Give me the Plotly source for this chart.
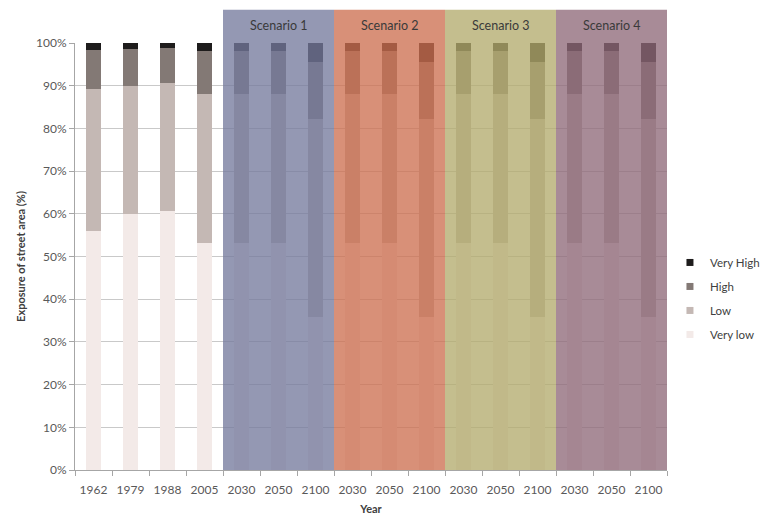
import plotly.graph_objects as go

# Time steps: four historical years, then three projection years per scenario
years = ["1962", "1979", "1988", "2005",
         "2030", "2050", "2100",
         "2030", "2050", "2100",
         "2030", "2050", "2100",
         "2030", "2050", "2100"]

scenarios = ["Scenario 1", "Scenario 2", "Scenario 3", "Scenario 4"]
scenario_start = [4, 7, 10, 13]   # index of the first year in each scenario group
scenario_colors = ["rgb(116,121,156)", "rgb(204,110,80)",
                   "rgb(178,170,108)", "rgb(142,104,120)"]

# Share of street area (%) in each exposure class
very_low = [56.0, 60.0, 60.7, 53.1] + [53.2, 53.2, 35.8] * 4
low = [33.2, 30.0, 29.9, 35.0] + [34.8, 34.8, 46.4] * 4
high = [9.2, 8.5, 8.2, 10.0] + [10.2, 10.2, 13.3] * 4
very_high = [1.6, 1.5, 1.2, 1.9] + [1.8, 1.8, 4.5] * 4

series = [
    ("Very low", very_low, "rgb(243,234,232)"),
    ("Low", low, "rgb(196,184,180)"),
    ("High", high, "rgb(131,121,117)"),
    ("Very High", very_high, "rgb(30,28,28)"),
]

xpos = list(range(len(years)))
x_lo, x_hi = -0.5, len(years) - 0.5

fig = go.Figure()
for name, vals, color in series:
    fig.add_trace(go.Bar(
        x=xpos, y=vals, name=name, width=0.4, showlegend=False,
        marker=dict(color=color, line=dict(width=0)),
    ))

# Small square legend keys, one per exposure class
for i, (name, vals, color) in enumerate(series):
    fig.add_trace(go.Scatter(
        x=[None], y=[None], mode="markers", name=name,
        legendgroup=name, legendrank=len(series) - i,
        marker=dict(symbol="square", size=7, color=color,
                    line=dict(width=0)),
    ))

font = "Lato, 'Open Sans', Arial, sans-serif"

# Semi-transparent scenario bands laid over the projected bars
band_top = 1.078
for name, start, color in zip(scenarios, scenario_start, scenario_colors):
    left = (start - 0.5 - x_lo) / (x_hi - x_lo)
    right = (start + 2.5 - x_lo) / (x_hi - x_lo)
    fig.add_shape(type="rect", xref="paper", yref="paper",
                  x0=left, x1=right, y0=0, y1=band_top,
                  fillcolor=color, opacity=0.77, line=dict(width=0),
                  layer="above")
    fig.add_annotation(x=start + 1, y=1.042, xref="x", yref="paper",
                       yanchor="middle", text=name, showarrow=False,
                       font=dict(family=font, size=12.5, color="#3a3a3a"))

fig.update_layout(
    width=762, height=518,
    margin=dict(l=75, r=95, t=43, b=48, autoexpand=False),
    barmode="stack",
    plot_bgcolor="white", paper_bgcolor="white",
    font=dict(family=font, size=12, color="#595959"),
    showlegend=True,
    legend=dict(x=1.005, y=0.52, xanchor="left", yanchor="top",
                traceorder="grouped", tracegroupgap=5,
                font=dict(family=font, size=11.5, color="#404040"),
                itemwidth=30, bgcolor="rgba(0,0,0,0)"),
    xaxis=dict(
        range=[x_lo, x_hi], tickmode="array", tickvals=xpos, ticktext=years,
        ticks="", showgrid=False, showline=True, linecolor="#a6a6a6",
        tickfont=dict(size=12, color="#595959"), ticklabelstandoff=9,
        minor=dict(tick0=-0.5, dtick=1, ticks="outside", ticklen=5,
                   tickcolor="#a6a6a6", showgrid=False),
        title=dict(text="<b>Year</b>", font=dict(size=11, color="#404040"),
                   standoff=8),
    ),
    yaxis=dict(
        range=[0, 100], tickvals=list(range(0, 101, 10)),
        ticktext=[f"{v}%" for v in range(0, 101, 10)],
        ticks="outside", ticklen=5, tickcolor="#a6a6a6",
        showgrid=True, gridcolor="#c9c9c9", gridwidth=1,
        showline=True, linecolor="#a6a6a6", zeroline=False,
        tickfont=dict(size=12, color="#595959"),
        title=dict(text="<b>Exposure of street area (%)</b>",
                   font=dict(size=11, color="#404040"), standoff=8),
    ),
)

fig.write_html("out.html")
